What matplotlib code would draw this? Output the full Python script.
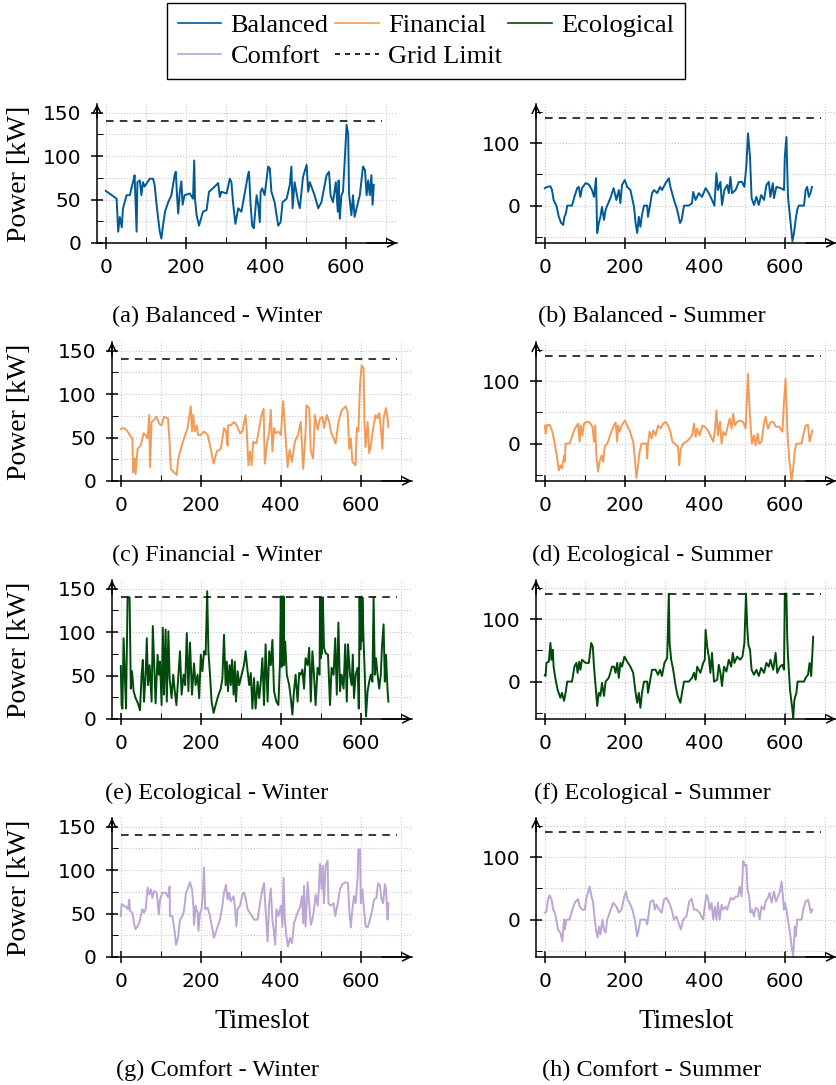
import matplotlib
matplotlib.use("Agg")
import matplotlib.pyplot as plt
from matplotlib.lines import Line2D

plt.rcParams['font.family'] = ['Liberation Serif', 'DejaVu Serif']

# power per timeslot, (timeslot, kW)
balanced_winter = [(0,60),(27,51),(31,13),(35,30),(40,18),(43,40),(52,55),(60,55),(68,70),(72,78),
    (77,13),(79,70),(85,72),(89,55),(93,70),(97,65),(110,74),(118,74),(122,67),(127,44),
    (131,28),(135,13),(139,5),(143,20),(148,36),(156,47),(164,55),(172,78),(175,82),(178,55),
    (181,34),(185,59),(189,71),(192,44),(197,55),(210,57),(218,51),(221,95),(223,51),(227,32),
    (233,20),(243,36),(252,38),(258,59),(268,63),(281,69),(285,53),(289,59),(302,57),(310,74),
    (314,70),(318,47),(324,22),(331,40),(339,36),(348,59),(356,80),(358,82),(362,44),(366,20),
    (370,17),(377,55),(381,44),(385,24),(387,59),(391,63),(397,55),(406,88),(410,86),(414,59),
    (422,47),(431,20),(437,24),(442,47),(452,51),(460,67),(464,88),(467,40),(472,70),(481,47),
    (485,40),(493,76),(502,90),(506,59),(510,70),(514,65),(522,55),(531,40),(539,47),(552,78),
    (558,82),(562,55),(568,47),(575,70),(580,36),(582,72),(585,28),(589,55),(593,59),(598,101),
    (602,136),(606,125),(608,57),(614,32),(618,55),(622,30),(627,40),(635,55),(643,88),(648,84),
    (652,55),(656,72),(660,55),(664,78),(667,44),(670,67)]

balanced_summer = [(0,28),(6,30),(14,31),(18,25),(22,9),(29,0),(35,-18),(41,-28),(46,-31),(49,-18),
    (53,-12),(56,0),(68,0),(74,14),(81,28),(85,30),(89,14),(93,28),(102,36),(110,34),
    (118,25),(123,14),(125,25),(128,44),(131,-44),(135,-28),(139,-18),(143,-2),(148,-23),(152,-7),
    (156,0),(164,12),(172,28),(179,9),(185,25),(189,4),(193,33),(200,41),(206,30),(214,25),
    (223,-2),(227,-28),(231,-44),(235,-18),(239,-34),(243,-15),(248,0),(256,0),(258,-18),(263,0),
    (268,20),(273,25),(281,20),(288,30),(293,25),(302,36),(310,44),(314,30),(323,9),(331,-7),
    (338,-28),(342,-23),(348,0),(360,0),(368,4),(371,22),(377,9),(385,20),(393,14),(402,28),
    (410,20),(418,9),(424,0),(429,52),(433,25),(439,38),(443,1),(449,25),(456,33),(460,20),
    (464,46),(468,20),(477,25),(485,38),(493,38),(499,30),(504,65),(508,116),(513,78),(517,12),
    (523,1),(529,14),(535,1),(541,17),(548,9),(554,33),(560,38),(564,14),(570,36),(573,12),
    (579,30),(590,28),(598,25),(600,78),(604,110),(608,14),(613,-18),(619,-57),(623,-44),(627,-23),
    (631,-7),(635,0),(648,0),(652,25),(656,30),(660,14),(664,20),(668,30)]

financial_winter = [(0,60),(8,61),(17,57),(25,51),(29,49),(31,10),(35,26),(37,8),(42,37),(50,41),
    (57,55),(62,53),(67,49),(71,76),(73,16),(77,68),(83,70),(89,74),(96,66),(102,64),
    (108,74),(118,72),(122,45),(125,14),(133,10),(140,7),(143,24),(150,37),(158,49),(167,61),
    (171,74),(175,86),(178,57),(181,76),(185,57),(190,64),(193,53),(200,53),(208,57),(217,53),
    (225,37),(232,20),(240,34),(250,37),(258,61),(263,57),(267,41),(268,64),(275,64),(283,68),
    (290,64),(298,55),(304,57),(312,76),(315,57),(319,18),(323,34),(327,18),(331,45),(339,43),
    (346,61),(352,76),(357,83),(360,20),(365,41),(371,57),(375,82),(379,34),(383,61),(387,55),
    (394,57),(400,53),(406,92),(410,64),(414,37),(417,16),(422,36),(428,22),(435,45),(443,53),
    (450,68),(456,14),(462,57),(464,87),(471,84),(475,34),(481,26),(485,76),(492,59),(498,72),
    (504,74),(508,61),(515,76),(521,68),(525,57),(532,49),(537,43),(544,68),(552,81),(562,86),
    (567,80),(571,37),(575,49),(579,22),(587,18),(590,61),(594,57),(598,111),(602,133),(607,130),
    (609,68),(612,39),(617,68),(621,32),(625,41),(632,64),(637,76),(642,72),(646,78),(650,61),
    (654,37),(657,72),(663,84),(667,72),(669,62)]

ecological_summer_fin = [(0,29),(2,16),(6,30),(12,30),(19,19),(25,0),(31,-24),(35,-43),(39,-35),(43,-40),
    (48,-19),(50,-29),(52,0),(62,0),(69,13),(75,24),(83,32),(87,3),(90,29),(94,13),
    (98,32),(104,35),(112,34),(119,27),(123,3),(126,29),(129,-19),(133,-45),(137,-29),(142,-19),
    (146,-29),(150,-5),(156,0),(162,11),(171,27),(177,34),(181,3),(183,29),(187,19),(192,29),
    (200,37),(206,29),(212,21),(221,3),(225,-24),(229,-55),(233,-35),(237,-13),(242,0),(254,0),
    (256,-24),(258,0),(262,19),(267,8),(271,21),(277,13),(283,29),(289,24),(296,32),(302,35),
    (308,29),(314,19),(319,3),(325,0),(333,-5),(336,-35),(340,-8),(346,0),(354,3),(362,8),
    (368,13),(373,32),(377,11),(381,24),(387,13),(394,29),(400,27),(408,21),(414,13),(421,3),
    (425,19),(429,53),(433,13),(438,35),(442,0),(446,19),(452,13),(458,29),(462,40),(467,24),
    (471,48),(475,29),(481,35),(487,37),(496,35),(502,24),(508,112),(511,67),(515,24),(518,0),
    (523,13),(527,-3),(532,16),(536,0),(542,3),(548,32),(552,43),(558,24),(564,34),(571,35),
    (578,27),(586,27),(594,19),(598,67),(602,104),(607,13),(611,-24),(617,-60),(621,-40),(625,-11),
    (629,0),(642,0),(646,13),(652,29),(658,30),(662,3),(667,16),(669,21)]

ecological_winter = [(0,61),(2,16),(4,12),(7,93),(10,51),(13,12),(17,140),(22,140),(25,35),(28,55),
    (32,32),(37,24),(43,18),(48,10),(52,51),(55,68),(58,20),(62,51),(65,93),(68,39),
    (72,62),(77,20),(80,107),(83,70),(87,18),(92,74),(95,51),(98,66),(102,16),(105,105),
    (108,28),(112,103),(115,20),(119,101),(122,47),(127,24),(131,51),(135,32),(139,16),(143,43),
    (148,78),(152,28),(157,51),(161,39),(165,99),(169,32),(173,88),(178,28),(183,64),(187,39),
    (192,51),(196,24),(200,74),(204,55),(208,78),(212,74),(216,147),(219,78),(223,51),(227,20),
    (232,7),(237,16),(243,26),(250,35),(254,47),(258,97),(262,39),(265,66),(268,32),(272,62),
    (275,39),(278,68),(282,28),(285,66),(288,20),(292,55),(296,39),(302,51),(308,62),(312,78),
    (317,55),(321,39),(325,53),(329,12),(333,47),(337,12),(342,43),(346,24),(350,43),(354,70),
    (358,16),(362,86),(367,20),(371,78),(375,62),(379,91),(383,32),(389,20),(394,16),(398,66),
    (400,141),(402,60),(404,141),(406,70),(407,141),(408,62),(411,89),(415,51),(421,39),(425,24),
    (429,5),(433,32),(437,51),(442,20),(446,53),(450,51),(454,57),(458,35),(462,70),(467,62),
    (471,82),(475,20),(479,78),(483,51),(487,16),(492,59),(497,51),(498,140),(500,70),(502,140),
    (503,75),(505,140),(508,82),(512,76),(518,74),(523,16),(527,59),(532,51),(536,93),(540,28),
    (544,111),(548,32),(552,51),(557,35),(561,86),(565,20),(568,86),(573,51),(577,39),(580,74),
    (583,24),(587,51),(592,59),(595,12),(597,140),(599,80),(601,140),(603,90),(604,140),(607,89),
    (610,51),(613,3),(617,32),(621,43),(625,51),(629,43),(632,140),(635,51),(638,70),(642,51),
    (646,35),(650,51),(653,84),(657,109),(660,43),(663,74),(667,32),(669,20)]

ecological_summer = [(0,10),(2,9),(4,30),(10,32),(14,62),(17,35),(20,51),(22,24),(27,3),(32,-13),
    (39,-26),(43,-18),(48,-31),(52,-18),(56,0),(68,0),(74,24),(79,30),(82,14),(86,32),
    (89,19),(93,35),(102,30),(110,30),(116,62),(120,56),(123,24),(127,-7),(131,-39),(135,-18),
    (139,-23),(143,-2),(148,-23),(152,0),(160,6),(168,24),(173,24),(177,14),(181,30),(185,6),
    (189,30),(193,24),(199,40),(206,32),(214,24),(221,14),(227,-18),(231,-34),(235,-18),(239,-42),
    (243,-18),(248,0),(256,0),(258,-18),(263,0),(268,19),(277,19),(283,11),(288,19),(293,9),
    (299,30),(306,38),(310,141),(312,62),(316,35),(321,19),(327,-7),(332,-23),(339,-34),(343,-18),
    (348,0),(360,0),(368,6),(373,14),(377,3),(381,24),(389,14),(396,30),(400,35),(402,83),
    (406,56),(410,40),(414,14),(418,46),(423,0),(431,3),(435,27),(439,14),(443,-7),(448,24),
    (454,16),(460,35),(466,24),(470,46),(474,30),(481,40),(488,35),(494,40),(499,62),(503,141),
    (506,88),(509,59),(513,51),(517,19),(523,11),(529,19),(535,9),(541,22),(548,14),(554,30),
    (560,24),(564,35),(571,19),(577,46),(581,14),(588,24),(594,27),(598,19),(600,141),(604,141),
    (606,72),(608,40),(613,-13),(619,-45),(621,-58),(624,-29),(629,-18),(632,0),(648,0),(652,6),
    (658,11),(662,30),(666,9),(671,72)]

comfort_winter = [(0,47),(2,61),(8,59),(15,57),(18,55),(21,66),(23,53),(29,51),(33,39),(37,32),
    (46,39),(54,55),(58,51),(62,55),(67,80),(71,72),(75,78),(79,68),(83,76),(90,74),
    (95,49),(98,66),(104,74),(112,74),(118,69),(122,81),(123,47),(129,47),(135,28),(138,14),
    (143,22),(148,43),(154,47),(158,53),(163,74),(167,78),(173,86),(178,78),(182,55),(183,37),
    (187,59),(192,51),(194,30),(198,51),(202,55),(205,74),(208,103),(211,55),(217,57),(223,47),
    (229,32),(233,22),(240,32),(248,43),(254,59),(258,74),(263,83),(267,66),(271,74),(275,64),
    (282,70),(286,55),(289,35),(292,55),(298,59),(304,72),(308,74),(312,68),(317,55),(323,51),
    (333,43),(342,43),(348,62),(354,78),(358,85),(362,55),(367,18),(371,62),(375,79),(379,43),
    (382,32),(386,14),(389,55),(394,47),(400,59),(404,35),(407,91),(410,43),(414,24),(418,12),
    (423,22),(428,16),(433,39),(442,51),(448,57),(453,70),(456,39),(458,82),(462,35),(467,86),
    (471,62),(475,37),(479,43),(483,55),(487,72),(492,59),(495,78),(498,107),(502,78),(505,105),
    (508,62),(512,105),(517,111),(519,62),(525,59),(532,62),(536,47),(542,61),(548,78),(554,84),
    (562,86),(568,85),(571,55),(575,34),(579,55),(583,70),(587,62),(592,91),(594,124),(598,124),
    (600,62),(604,78),(608,55),(612,35),(617,34),(623,43),(629,55),(633,66),(639,68),(643,85),
    (648,82),(652,66),(656,62),(660,84),(663,78),(667,43),(669,62)]

comfort_summer = [(0,11),(4,13),(8,32),(12,39),(17,32),(21,16),(25,11),(29,0),(33,-16),(39,-21),
    (44,-35),(48,0),(50,-16),(54,0),(62,0),(69,16),(75,27),(83,33),(87,21),(94,16),
    (100,16),(104,35),(108,43),(112,53),(117,37),(121,27),(123,11),(128,-16),(132,-29),(136,-11),
    (139,-24),(144,0),(148,-16),(152,-21),(156,0),(162,11),(171,27),(179,21),(185,11),(192,16),
    (198,35),(203,45),(207,32),(212,27),(219,16),(225,0),(231,-27),(236,-11),(239,0),(252,0),
    (256,-8),(260,11),(264,29),(271,31),(275,16),(279,24),(286,16),(292,11),(298,32),(304,35),
    (311,27),(317,16),(323,0),(329,5),(336,-8),(340,-16),(346,0),(354,5),(361,29),(367,33),
    (373,16),(379,16),(387,11),(396,0),(401,27),(404,40),(408,35),(412,16),(417,27),(421,0),
    (425,21),(429,0),(433,27),(437,0),(442,24),(446,16),(452,21),(456,16),(461,27),(465,35),
    (471,32),(477,37),(483,37),(487,53),(492,37),(496,94),(500,86),(504,88),(507,48),(511,37),
    (514,11),(518,16),(523,5),(527,19),(533,16),(537,0),(542,21),(548,16),(552,29),(558,35),
    (562,43),(567,27),(573,45),(578,29),(583,37),(588,45),(592,61),(598,16),(600,27),(604,16),
    (608,0),(613,-21),(617,-43),(621,-59),(625,-11),(627,-27),(631,0),(642,0),(646,16),(652,29),
    (658,32),(662,21),(665,11),(669,16)]

grid_limit = 140
limit_span = (0, 690)

strategy_names = ['Balanced', 'Financial', 'Ecological', 'Comfort']
strategy_colors = ['#005a96', '#f29b57', '#004b0b', '#bca6d2']

# (series, strategy index, summer?, caption)
panels = [
    (balanced_winter, 0, False, '(a) Balanced - Winter'),
    (balanced_summer, 0, True, '(b) Balanced - Summer'),
    (financial_winter, 1, False, '(c) Financial - Winter'),
    (ecological_summer_fin, 1, True, '(d) Ecological - Summer'),
    (ecological_winter, 2, False, '(e) Ecological - Winter'),
    (ecological_summer, 2, True, '(f) Ecological - Summer'),
    (comfort_winter, 3, False, '(g) Comfort - Winter'),
    (comfort_summer, 3, True, '(h) Comfort - Summer'),
]

W, H = 836, 1085
fig = plt.figure(figsize=(W / 100, H / 100), dpi=100)

row_bottom = [243, 481, 719, 957]
caption_y = [316, 555, 793, 1070]
ax_w, ax_h = 300, 139


def style_axis(ax, summer):
    ax.set_xlim(-22, 728)
    ax.set_xticks([0, 200, 400, 600])
    ax.set_xticks([100, 300, 500, 700], minor=True)
    if summer:
        ax.set_ylim(-60, 163)
        ax.set_yticks([0, 100])
        ax.set_yticks([-50, 50, 150], minor=True)
    else:
        ax.set_ylim(0, 160)
        ax.set_yticks([0, 50, 100, 150])
        ax.set_yticks([25, 75, 125], minor=True)
    ax.grid(which='both', color='#c8c8c8', linestyle=':', linewidth=0.8)
    ax.set_axisbelow(True)
    for s in ['top', 'right']:
        ax.spines[s].set_visible(False)
    for s in ['left', 'bottom']:
        ax.spines[s].set_linewidth(1.1)
    ax.tick_params(which='major', direction='inout', length=9, width=1.1,
                   labelsize=14.5, labelfontfamily='DejaVu Sans')
    ax.tick_params(which='minor', direction='in', length=4, width=0.7)
    ax.tick_params(axis='x', which='major', pad=6)
    ax.tick_params(axis='y', which='major', pad=7)
    # arrow heads at the end of both axis lines
    arrow = dict(arrowstyle='->', lw=1.1, color='black', shrinkA=0, shrinkB=0, mutation_scale=14)
    ax.annotate('', xy=(1.0, 0), xytext=(0.9, 0), xycoords='axes fraction', arrowprops=arrow)
    ax.annotate('', xy=(0, 1.0), xytext=(0, 0.9), xycoords='axes fraction', arrowprops=arrow)


for i, (series, k, summer, caption) in enumerate(panels):
    row, col = i // 2, i % 2
    if col == 0:
        x0 = 97 if row == 0 else 112
    else:
        x0 = 536
    ax = fig.add_axes([x0 / W, 1 - row_bottom[row] / H, ax_w / W, ax_h / H])
    style_axis(ax, summer)
    t, p = zip(*series)
    ax.plot(t, p, color=strategy_colors[k], lw=1.4)
    ax.hlines(grid_limit, *limit_span, colors='black', linestyles=(0, (5, 4)), lw=1.1)

    cx = 217 if col == 0 else 652
    fig.text(cx / W, 1 - caption_y[row] / H, caption, ha='center', va='center', fontsize=17.5)
    if col == 0:
        fig.text(20 / W, 1 - (row_bottom[row] - ax_h / 2) / H, 'Power [kW]',
                 rotation=90, ha='center', va='center', fontsize=20)
    if row == 3:
        fig.text((x0 + 150) / W, 1 - 1022 / H, 'Timeslot', ha='center', va='center', fontsize=19.5)

# legend: handles ordered so that the rows read like the original
handles = {name: Line2D([], [], color=c, lw=1.2) for name, c in zip(strategy_names, strategy_colors)}
handles['Grid Limit'] = Line2D([], [], color='black', lw=1.2, linestyle=(0, (3, 3)))
order = ['Balanced', 'Comfort', 'Financial', 'Grid Limit', 'Ecological']
leg = fig.legend([handles[n] for n in order], order, ncol=3, loc='upper center',
                 bbox_to_anchor=(426 / W, 1 - 3 / H), borderaxespad=0, fontsize=19,
                 frameon=True, fancybox=False, edgecolor='black', framealpha=1,
                 handlelength=1.65, handletextpad=0.35, columnspacing=0.25,
                 labelspacing=0.3, borderpad=0.4)
leg.get_frame().set_linewidth(1.0)

fig.savefig('out.png', dpi=100)
